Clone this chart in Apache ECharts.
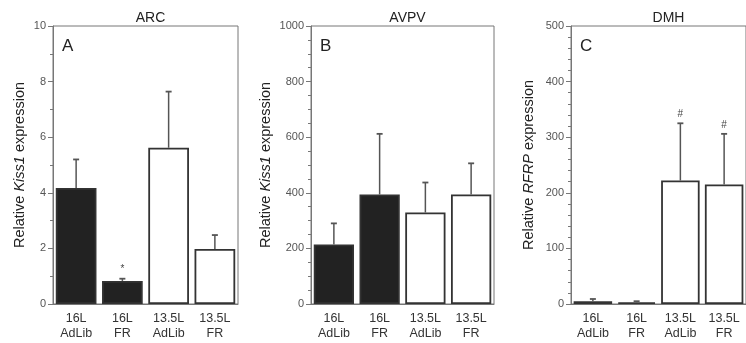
<!DOCTYPE html>
<html>
<head>
<meta charset="utf-8">
<script src="https://cdn.jsdelivr.net/npm/echarts@6/dist/echarts.min.js"></script>
<style>
  html, body { margin: 0; padding: 0; background: #fff; }
  #chart { width: 746px; height: 343px; }
</style>
</head>
<body>
<div id="chart"></div>
<script>
const categories = ["16L\nAdLib", "16L\nFR", "13.5L\nAdLib", "13.5L\nFR"];
const panelTitles = ["ARC", "AVPV", "DMH"];
const panelLetters = ["A", "B", "C"];

const arcMean = [4.17, 0.83, 5.62, 1.98];
const arcErr = [1.03, 0.08, 2.02, 0.5];
const arcMarks = ["", "*", "", ""];

const avpvMean = [214, 394, 329, 394];
const avpvErr = [76, 218, 108, 112];
const avpvMarks = ["", "", "", ""];

const dmhMean = [5, 3, 222, 215];
const dmhErr = [4, 2, 103, 91];
const dmhMarks = ["", "", "#", "#"];

const yMax = [10, 1000, 500];
const yStep = [2, 200, 100];
const yMinorSplits = [2, 4, 5];

const FONT = "Liberation Sans, Arial, sans-serif";
const AXIS_COLOR = "#777";
const DARK_FILL = "#222";

const panels = [
  { mean: arcMean, err: arcErr, marks: arcMarks, gene: "Kiss1", left: 53, width: 185, nameGap: 26 },
  { mean: avpvMean, err: avpvErr, marks: avpvMarks, gene: "Kiss1", left: 311, width: 183, nameGap: 38 },
  { mean: dmhMean, err: dmhErr, marks: dmhMarks, gene: "RFRP", left: 571, width: 185, nameGap: 35 },
];

const chart = echarts.init(document.getElementById("chart"), null, { renderer: "canvas" });

const grids = panels.map((p) => ({
  left: p.left,
  top: 26,
  width: p.width,
  height: 278,
  show: true,
  borderColor: AXIS_COLOR,
  borderWidth: 1,
  backgroundColor: "#fff",
}));

const xAxes = panels.map((p, i) => ({
  type: "category",
  gridIndex: i,
  data: categories,
  axisLine: { lineStyle: { color: AXIS_COLOR, width: 1 } },
  axisTick: { alignWithLabel: true, length: 4, lineStyle: { color: AXIS_COLOR } },
  axisLabel: { color: "#333", fontSize: 12.5, fontFamily: FONT, lineHeight: 15, margin: 7, interval: 0 },
}));

const yAxes = panels.map((p, i) => ({
  type: "value",
  gridIndex: i,
  min: 0,
  max: yMax[i],
  interval: yStep[i],
  name: "{n|Relative }{g|" + p.gene + "}{n| expression}",
  nameLocation: "middle",
  nameGap: p.nameGap,
  nameRotate: 90,
  nameTextStyle: {
    rich: {
      n: { fontSize: 14.5, color: "#222", fontFamily: FONT },
      g: { fontSize: 14.5, color: "#222", fontFamily: FONT, fontStyle: "italic" },
    },
  },
  axisLine: { show: true, lineStyle: { color: AXIS_COLOR, width: 1 } },
  axisTick: { show: true, length: 5, lineStyle: { color: AXIS_COLOR } },
  minorTick: { show: true, splitNumber: yMinorSplits[i], length: 3, lineStyle: { color: AXIS_COLOR } },
  splitLine: { show: false },
  axisLabel: { color: "#555", fontSize: 11, fontFamily: FONT, margin: 7, formatter: (v) => String(v) },
}));

const series = [];
panels.forEach((p, i) => {
  series.push({
    type: "bar",
    xAxisIndex: i,
    yAxisIndex: i,
    barWidth: "88%",
    data: p.mean.map((v, j) => ({
      value: v,
      itemStyle: {
        color: j < 2 ? DARK_FILL : "#fff",
        borderColor: "#333",
        borderWidth: 1.8,
      },
    })),
    z: 2,
  });
  series.push({
    type: "custom",
    xAxisIndex: i,
    yAxisIndex: i,
    z: 3,
    data: p.mean.map((v, j) => [j, v, v + p.err[j]]),
    renderItem: (params, api) => {
      const base = api.coord([api.value(0), api.value(1)]);
      const top = api.coord([api.value(0), api.value(2)]);
      const children = [
        { type: "line", shape: { x1: base[0], y1: base[1], x2: top[0], y2: top[1] }, style: { stroke: "#555", lineWidth: 1.5 } },
        { type: "line", shape: { x1: top[0] - 3, y1: top[1], x2: top[0] + 3, y2: top[1] }, style: { stroke: "#555", lineWidth: 1.8 } },
      ];
      const mark = p.marks[params.dataIndex];
      if (mark) {
        children.push({
          type: "text",
          style: {
            text: mark,
            x: top[0],
            y: top[1] - 4,
            align: "center",
            verticalAlign: "bottom",
            fill: "#444",
            font: "10px " + FONT,
          },
        });
      }
      return { type: "group", children };
    },
  });
});

const titles = [];
panels.forEach((p, i) => {
  titles.push({
    text: panelTitles[i],
    left: p.left + p.width / 2,
    top: 6,
    textAlign: "center",
    textStyle: { fontSize: 14, fontWeight: "normal", color: "#222", fontFamily: FONT },
  });
  titles.push({
    text: panelLetters[i],
    left: p.left + 4,
    top: 33,
    textStyle: { fontSize: 17, fontWeight: "normal", color: "#222", fontFamily: FONT },
  });
});

chart.setOption({
  animation: false,
  backgroundColor: "#fff",
  title: titles,
  grid: grids,
  xAxis: xAxes,
  yAxis: yAxes,
  series,
});
</script>
</body>
</html>
